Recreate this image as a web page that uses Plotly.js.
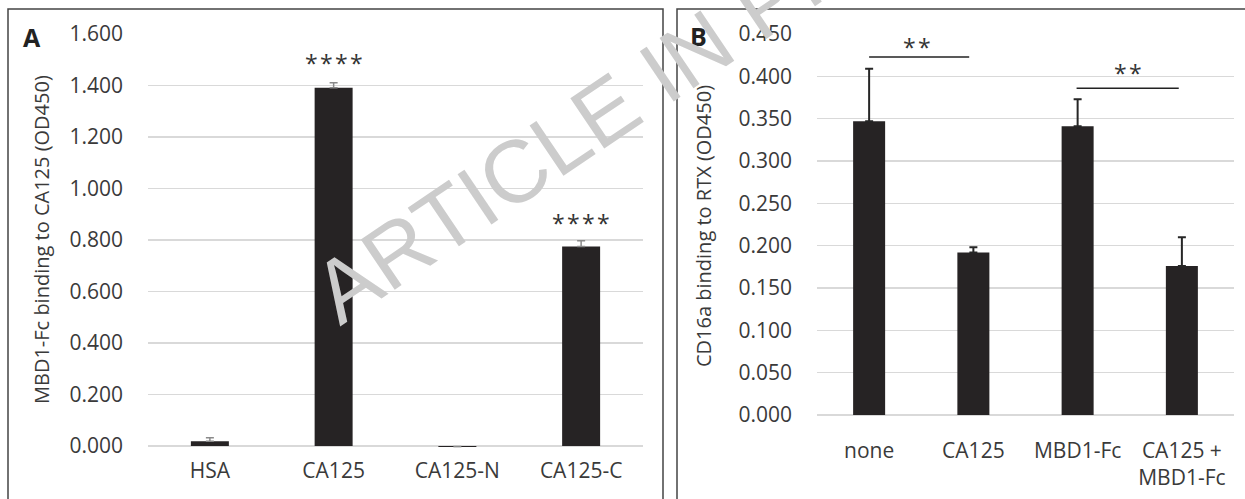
<!DOCTYPE html>
<html>
<head>
<meta charset="utf-8">
<script src="https://cdn.plot.ly/plotly-3.0.1.min.js"></script>
<style>html,body{margin:0;padding:0;background:#fff;}#chart{width:1245px;height:499px;}</style>
</head>
<body>
<div id="chart"></div>
<script>
// Panel A data
const catsA = ["HSA", "CA125", "CA125-N", "CA125-C"];
const valsA = [0.018, 1.391, -0.004, 0.775];
const errA = [0.014, 0.020, 0.002, 0.022];
const errAminus = [0, 0, 0, 0];
const starsA = ["", "*\u200A*\u200A*\u200A*", "", "*\u200A*\u200A*\u200A*"];
const starsAy = [null, 1.489, null, 0.864];

// Panel B data
const catsB = ["none", "CA125", "MBD1-Fc", "CA125 +<br>MBD1-Fc"];
const valsB = [0.347, 0.192, 0.341, 0.176];
const errB = [0.062, 0.006, 0.032, 0.034];
const errBminus = [0, 0, 0, 0];
const sigPairsB = [[0, 0.96], [1.99, 2.97]];
const sigLineY = [0.4228, 0.386];
const sigTextX = [0.46, 2.48];
const sigTextY = [0.4346, 0.404];
const sigText = ["*\u200A*", "*\u200A*"];

const titleA = "MBD1-Fc binding to CA125 (OD450)";
const titleB = "CD16a binding to RTX (OD450)";

const W = 1245, H = 499;
const px = v => v / W;
const py = v => 1 - v / H;

const font = "Open Sans, Noto Sans, sans-serif";
const textCol = "#3a3a3a";
const barCol = "#262324";

const traces = [
  {
    type: "bar", x: catsA, y: valsA, xaxis: "x", yaxis: "y",
    marker: {color: barCol},
    error_y: {type: "data", array: errA, arrayminus: errAminus, symmetric: false,
              color: "#8a8a8a", thickness: 1.5, width: 4},
    hoverinfo: "x+y", showlegend: false
  },
  {
    type: "bar", x: catsB, y: valsB, xaxis: "x2", yaxis: "y2",
    marker: {color: barCol},
    error_y: {type: "data", array: errB, arrayminus: errBminus, symmetric: false,
              color: "#262626", thickness: 2, width: 4},
    hoverinfo: "x+y", showlegend: false
  }
];

const gridCol = "#d9d9d9";
const layout = {
  width: W, height: H,
  margin: {l: 0, r: 0, t: 0, b: 0},
  paper_bgcolor: "#ffffff", plot_bgcolor: "#ffffff",
  font: {family: font, color: textCol},
  bargap: 0.693,
  showlegend: false,
  xaxis: {
    domain: [px(148), px(643)], anchor: "y", type: "category",
    showgrid: false, showline: false, zeroline: false, ticks: "",
    tickfont: {size: 21, color: textCol}, ticklabelstandoff: 8
  },
  yaxis: {
    domain: [py(447.5), py(34)], anchor: "x", range: [-0.006, 1.6],
    dtick: 0.2, tick0: 0, tickformat: ".3f",
    showgrid: true, gridcolor: gridCol, gridwidth: 1.5,
    zeroline: true, zerolinecolor: gridCol, zerolinewidth: 1.5,
    showline: false, ticks: "",
    tickfont: {size: 21, color: textCol}, ticklabelstandoff: 24
  },
  xaxis2: {
    domain: [px(817), px(1234)], anchor: "y2", type: "category",
    showgrid: false, showline: false, zeroline: false, ticks: "",
    tickfont: {size: 21, color: textCol}, ticklabelstandoff: 21
  },
  yaxis2: {
    domain: [py(415), py(34)], anchor: "x2", range: [0, 0.45],
    dtick: 0.05, tick0: 0, tickformat: ".3f",
    showgrid: true, gridcolor: gridCol, gridwidth: 1.5,
    zeroline: true, zerolinecolor: gridCol, zerolinewidth: 1.5,
    showline: false, ticks: "",
    tickfont: {size: 21, color: textCol}, ticklabelstandoff: 24
  },
  shapes: [
    {type: "rect", xref: "paper", yref: "paper", x0: px(8), x1: px(663), y0: -0.2, y1: py(9),
     line: {color: "#444444", width: 1.5}, fillcolor: "rgba(0,0,0,0)", layer: "above"},
    {type: "rect", xref: "paper", yref: "paper", x0: px(677), x1: 1.2, y0: -0.2, y1: py(9),
     line: {color: "#444444", width: 1.5}, fillcolor: "rgba(0,0,0,0)", layer: "above"}
  ],
  annotations: []
};

const C = {xanchor: "center", yanchor: "middle", showarrow: false};

sigPairsB.forEach((p, i) => {
  layout.shapes.push({type: "line", xref: "x2", yref: "y2", x0: p[0], x1: p[1],
    y0: sigLineY[i], y1: sigLineY[i], line: {color: "#222222", width: 1.5}});
  layout.annotations.push(Object.assign({xref: "x2", yref: "y2", x: sigTextX[i], y: sigTextY[i],
    text: sigText[i], font: {size: 23, color: "#333333"}}, C));
});

catsA.forEach((c, i) => {
  if (starsA[i]) layout.annotations.push(Object.assign({xref: "x", yref: "y", x: c, y: starsAy[i],
    text: starsA[i], font: {size: 23, color: "#333333"}}, C));
});

layout.annotations.push(
  Object.assign({xref: "paper", yref: "paper", x: px(32), y: py(37), text: "<b>A</b>",
   font: {size: 25, color: "#222222"}}, C),
  Object.assign({xref: "paper", yref: "paper", x: px(698), y: py(36), text: "<b>B</b>",
   font: {size: 25, color: "#222222"}}, C),
  Object.assign({xref: "paper", yref: "paper", x: px(41), y: py(240), text: titleA, textangle: -90,
   font: {size: 20, color: textCol}}, C),
  Object.assign({xref: "paper", yref: "paper", x: px(703), y: py(226), text: titleB, textangle: -90,
   font: {size: 20, color: textCol}}, C),
  Object.assign({xref: "paper", yref: "paper", x: px(656), y: py(76), text: "ARTICLE IN PRESS", textangle: -34,
   font: {size: 88, color: "#cccccc", family: "Liberation Sans, Arial, sans-serif"}}, C)
);

Plotly.newPlot("chart", traces, layout, {staticPlot: true, displayModeBar: false});
</script>
</body>
</html>
